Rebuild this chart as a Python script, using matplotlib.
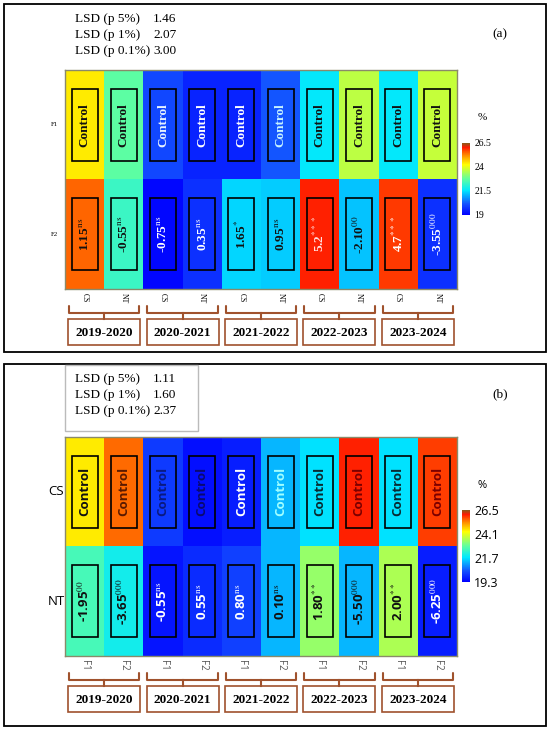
import numpy as np
import matplotlib
matplotlib.use('Agg')
import matplotlib.pyplot as plt
from matplotlib.colors import LinearSegmentedColormap
from matplotlib.patches import Rectangle

plt.rcParams['mathtext.fontset'] = 'stix'

W, H = 550, 731

# ── data ──────────────────────────────────────────────────────────────────
years = ['2019-2020', '2020-2021', '2021-2022', '2022-2023', '2023-2024']

# (a) rows F1 / F2, columns CS / NT per year
a_rows = ['F1', 'F2']
a_cols = ['CS', 'NT'] * 5
a_f1 = [24.4, 22.7, 20.0, 19.5, 19.5, 20.2, 21.6, 23.6, 21.6, 23.7]
a_f2 = [25.5, 22.3, 19.1, 19.7, 21.4, 21.3, 26.0, 21.2, 25.8, 19.7]
a_f2_lab = ['1.15', '-0.55', '-0.75', '0.35', '1.65', '0.95', '5.2', '-2.10', '4.7', '-3.55']
a_f2_sig = ['ns', 'ns', 'ns', 'ns', '*', 'ns', '***', '00', '***', '000']
a_lsd = ['1.46', '2.07', '3.00']
a_range = (19, 26.5)
a_ticks = [19, 21.5, 24, 26.5]

# (b) rows CS / NT, columns F1 / F2 per year
b_rows = ['CS', 'NT']
b_cols = ['F1', 'F2'] * 5
b_cs = [24.5, 25.5, 20.1, 19.5, 19.7, 21.3, 21.7, 26.0, 21.7, 25.8]
b_nt = [22.6, 22.0, 19.6, 19.9, 20.2, 21.3, 23.4, 21.3, 23.6, 19.7]
b_nt_lab = ['-1.95', '-3.65', '-0.55', '0.55', '0.80', '0.10', '1.80', '-5.50', '2.00', '-6.25']
b_nt_sig = ['00', '000', 'ns', 'ns', 'ns', 'ns', '**', '000', '**', '000']
b_lsd = ['1.11', '1.60', '2.37']
b_range = (19.3, 26.5)
b_ticks = [19.3, 21.7, 24.1, 26.5]

lsd_names = ['LSD (p 5%)', 'LSD (p 1%)', 'LSD (p 0.1%)']

# text colours inside cells (style)
a_tc = [['#111111', '#111111', '#e8f4ff', 'white', 'white', '#c8f4ff', '#111111', '#111111', '#111111', '#111111'],
        ['#111111', '#111111', 'white', 'white', '#111111', '#111111', '#ffe0e0', '#111111', 'white', 'white']]
b_tc = [['#111111', '#5a1a00', '#0a1a80', '#0a0a70', 'white', '#a0ffff', '#0a2a30', '#7a0000', '#0a2a30', '#7a0000'],
        ['#111111', '#111111', 'white', 'white', 'white', '#111111', '#111111', '#111111', '#111111', 'white']]

cmap = LinearSegmentedColormap.from_list('heat', [
    (0.00, '#0000ff'), (0.15, '#1450ff'), (0.34, '#00e8ff'), (0.50, '#60ffa0'),
    (0.62, '#c0ff40'), (0.70, '#ffff00'), (0.83, '#ff8c00'), (0.94, '#ff1a00'),
    (1.00, '#8a5a1a')])

BROWN = '#a0522d'


def px(x0, y0, x1, y1):
    return [x0 / W, 1 - y1 / H, (x1 - x0) / W, (y1 - y0) / H]


fig = plt.figure(figsize=(W / 100, H / 100), dpi=100)
bg = fig.add_axes([0, 0, 1, 1])
bg.set_xlim(0, W)
bg.set_ylim(H, 0)
bg.axis('off')


def panel(top, bot, lab, rows, cols, vals, labels, sigs, tcs, lsd, vr, ticks,
          serif_cells, row_font, lsd_box):
    # outer frame
    bg.add_patch(Rectangle((4, top), 542, bot - top, fill=False, ec='black', lw=1.3))
    if lsd_box:
        bg.add_patch(Rectangle((65, top + 1), 133, 66, fill=False, ec='#bbbbbb', lw=1))
    for i, (n, v) in enumerate(zip(lsd_names, lsd)):
        y = top + 15 + i * 16
        bg.text(75, y, n, fontsize=9.5, family='Liberation Serif', va='center')
        bg.text(153, y, v, fontsize=9.5, family='Liberation Serif', va='center')
    bg.text(500, top + 30, lab, fontsize=9.5, family='Liberation Serif', ha='center', va='center')

    y0 = top + 66 if not lsd_box else top + 73
    y1 = y0 + 219
    ax = fig.add_axes(px(65, y0, 457, y1))
    arr = np.array(vals)
    im = ax.imshow(arr, cmap=cmap, vmin=vr[0], vmax=vr[1], aspect='auto')
    cell_font = 'Liberation Serif' if serif_cells else 'Open Sans'
    for r in range(2):
        for c in range(10):
            ax.add_patch(Rectangle((c - 0.33, r - 0.33), 0.66, 0.66, fill=False,
                                   ec='black', lw=1.2))
            if r == 0:
                s = 'Control'
            else:
                s = labels[c] + r'$^{\mathrm{' + sigs[c] + '}}$'
            ax.text(c, r, s, rotation=90, ha='center', va='center',
                    fontsize=9.5, fontweight='bold', family=cell_font, color=tcs[r][c])
    ax.set_xticks([])
    ax.set_yticks([])
    for sp in ax.spines.values():
        sp.set_color('#8a8a6a')
        sp.set_linewidth(1)

    # row labels
    for r, name in enumerate(rows):
        yc = y0 + (r + 0.5) * (y1 - y0) / 2
        if row_font == 'tiny':
            bg.text(54, yc, name, fontsize=5, family='Liberation Serif', ha='center', va='center')
        else:
            bg.text(56, yc, name, fontsize=9.5, family='Open Sans', ha='center', va='center')

    # column labels
    cw = (457 - 65) / 10
    for c, name in enumerate(cols):
        xc = 65 + (c + 0.5) * cw
        if row_font == 'tiny':
            bg.text(xc, y1 + 9, name, fontsize=5.5, family='Liberation Serif',
                    rotation=270, ha='center', va='center')
        else:
            bg.text(xc, y1 + 9, name, fontsize=7, family='Open Sans', color='#555555',
                    rotation=270, ha='center', va='center')

    # braces and year boxes
    for k, yr in enumerate(years):
        xa = 65 + 2 * k * cw + 4
        xb = 65 + 2 * (k + 1) * cw - 4
        xm = (xa + xb) / 2
        yb = y1 + 24
        bg.plot([xa, xa, xb, xb], [yb - 7, yb, yb, yb - 7], color=BROWN, lw=1.5,
                solid_capstyle='round')
        bg.plot([xm, xm], [yb, yb + 6], color=BROWN, lw=1.5)
        bg.add_patch(Rectangle((xm - 36, yb + 6), 72, 26, fc='white', ec=BROWN, lw=1.2))
        bg.text(xm, yb + 20, yr, fontsize=9.5, fontweight='bold', family='Liberation Serif',
                ha='center', va='center')

    # colour bar
    cb_top = y0 + 73
    cax = fig.add_axes(px(462, cb_top, 470, cb_top + 72))
    cb = fig.colorbar(im, cax=cax, ticks=ticks)
    cb.outline.set_visible(False)
    cax.tick_params(length=0, pad=3)
    cb_font = 'Liberation Serif' if serif_cells else 'Open Sans'
    cb_size = 7 if serif_cells else 9
    cax.set_yticklabels([f'{t:g}' for t in ticks], fontsize=cb_size, family=cb_font)
    bg.text(482, cb_top - 25, '%', fontsize=8, family=cb_font, ha='center', va='center')


panel(4, 352, '(a)', a_rows, a_cols, [a_f1, a_f2], a_f2_lab, a_f2_sig, a_tc,
      a_lsd, a_range, a_ticks, True, 'tiny', False)
panel(364, 726, '(b)', b_rows, b_cols, [b_cs, b_nt], b_nt_lab, b_nt_sig, b_tc,
      b_lsd, b_range, b_ticks, False, 'sans', True)

fig.savefig('out.png', dpi=100)
